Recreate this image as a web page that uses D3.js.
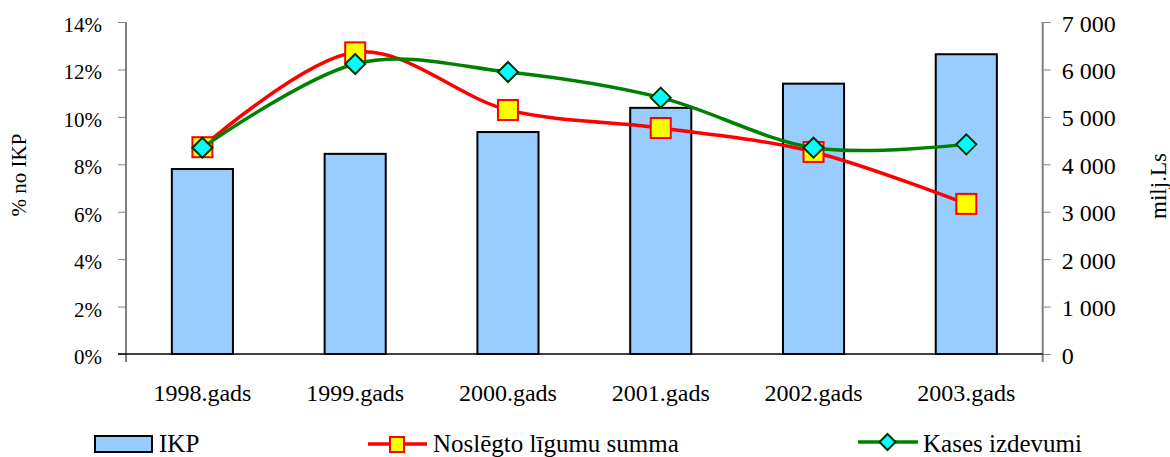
<html>
    <head>
        <style>
        body {
            margin: 0;
            background: white;
        }

        svg {
            display: block;
        }

        svg text {
            font-family: 'Liberation Serif', 'Times New Roman', serif;
        }

        .tick line {
            stroke: #808080;
        }
        </style>
    </head>
    <body>
        <svg width="1170" height="457"></svg>

        <script src="https://d3js.org/d3.v7.min.js"></script>

        <script>
            // data
            let years = ["1998.gads", "1999.gads", "2000.gads", "2001.gads", "2002.gads", "2003.gads"]
            let ikp = [3900, 4220, 4680, 5190, 5700, 6320]          // milj.Ls, right axis
            let ligumi = [8.72, 12.72, 10.29, 9.53, 8.52, 6.33]     // % no IKP
            let kases = [8.70, 12.23, 11.89, 10.81, 8.70, 8.84]     // % no IKP
            let leftTicks = [0, 2, 4, 6, 8, 10, 12, 14]
            let rightTicks = [0, 1000, 2000, 3000, 4000, 5000, 6000, 7000]
            let seriesNames = ["IKP", "Noslēgto līgumu summa", "Kases izdevumi"]

            let svg = d3.select("svg")

            let plotLeft = 126, plotRight = 1042.7, plotTop = 22, plotBottom = 354

            let x = d3.scaleBand()
                .domain(years)
                .range([plotLeft, plotRight])
                .padding(0)

            let yL = d3.scaleLinear().domain([0, 14]).range([plotBottom, plotTop])
            let yR = d3.scaleLinear().domain([0, 7000]).range([plotBottom, plotTop])

            let cx = d => x(d) + x.bandwidth() / 2
            let barW = x.bandwidth() * 0.4

            // bars
            svg.append("g")
                .selectAll("rect")
                .data(years)
                .enter().append("rect")
                .attr("x", d => cx(d) - barW / 2)
                .attr("width", barW)
                .attr("y", (d, i) => yR(ikp[i]))
                .attr("height", (d, i) => plotBottom - yR(ikp[i]))
                .style("fill", "#99ccff")
                .style("stroke", "black")
                .style("stroke-width", 2)

            // left axis
            let axL = svg.append("g")
                .attr("transform", `translate(${plotLeft},0)`)
                .call(d3.axisLeft(yL).tickValues(leftTicks).tickSize(8).tickSizeOuter(0).tickPadding(16).tickFormat(d => d + "%"))
            axL.select(".domain").remove()
            axL.selectAll("text").style("font-size", "21px").style("fill", "black").attr("dy", "0.45em")

            svg.append("line")
                .attr("x1", plotLeft).attr("x2", plotLeft)
                .attr("y1", plotTop).attr("y2", plotBottom + 8)
                .style("stroke", "#808080").style("stroke-width", 2)

            // right axis
            let fmt = d3.formatLocale({decimal: ",", thousands: " ", grouping: [3], currency: ["", ""]}).format(",")
            let axR = svg.append("g")
                .attr("transform", `translate(${plotRight},0)`)
                .call(d3.axisRight(yR).tickValues(rightTicks).tickSize(8).tickSizeOuter(0).tickPadding(11).tickFormat(fmt))
            axR.select(".domain").remove()
            axR.selectAll("text").style("font-size", "24px").style("fill", "black").attr("dy", "0.38em")

            svg.append("line")
                .attr("x1", plotRight).attr("x2", plotRight)
                .attr("y1", plotTop).attr("y2", plotBottom + 8)
                .style("stroke", "#808080").style("stroke-width", 2)

            // base line
            svg.append("line")
                .attr("x1", plotLeft - 8).attr("x2", plotRight)
                .attr("y1", plotBottom).attr("y2", plotBottom)
                .style("stroke", "black").style("stroke-width", 1.5)

            // category labels
            svg.append("g")
                .selectAll("text")
                .data(years)
                .enter().append("text")
                .attr("x", d => cx(d))
                .attr("y", 401)
                .attr("text-anchor", "middle")
                .style("font-size", "24px")
                .text(d => d)

            // axis titles
            svg.append("text")
                .attr("transform", "translate(26,175) rotate(-90)")
                .attr("text-anchor", "middle")
                .style("font-size", "21px")
                .text("% no IKP")

            svg.append("text")
                .attr("transform", "translate(1166,186) rotate(-90)")
                .attr("text-anchor", "middle")
                .style("font-size", "23px")
                .text("milj.Ls")

            // lines
            let line = d3.line()
                .x((d, i) => cx(years[i]))
                .y(d => yL(d))
                .curve(d3.curveCatmullRom.alpha(0))

            let diamond = s => `M0,${-s}L${s},0L0,${s}L${-s},0Z`

            svg.append("path")
                .attr("d", line(ligumi))
                .style("fill", "none")
                .style("stroke", "#ff0000")
                .style("stroke-width", 3.5)

            svg.append("g")
                .selectAll("rect")
                .data(ligumi)
                .enter().append("rect")
                .attr("x", (d, i) => cx(years[i]) - 10)
                .attr("y", d => yL(d) - 10)
                .attr("width", 20)
                .attr("height", 20)
                .style("fill", "#ffff00")
                .style("stroke", "#ff0000")
                .style("stroke-width", 2)

            svg.append("path")
                .attr("d", line(kases))
                .style("fill", "none")
                .style("stroke", "#008000")
                .style("stroke-width", 3.5)

            svg.append("g")
                .selectAll("path")
                .data(kases)
                .enter().append("path")
                .attr("transform", (d, i) => `translate(${cx(years[i])},${yL(d)})`)
                .attr("d", diamond(10))
                .style("fill", "#00ffff")
                .style("stroke", "#003300")
                .style("stroke-width", 2)

            // legend
            let lg = svg.append("g")

            lg.append("rect")
                .attr("x", 95).attr("y", 436).attr("width", 57).attr("height", 16)
                .style("fill", "#99ccff").style("stroke", "black").style("stroke-width", 2)
            lg.append("text").attr("x", 159).attr("y", 452).text(seriesNames[0])

            lg.append("line")
                .attr("x1", 368).attr("x2", 427).attr("y1", 444).attr("y2", 444)
                .style("stroke", "#ff0000").style("stroke-width", 3.5)
            lg.append("rect")
                .attr("x", 390).attr("y", 437).attr("width", 14).attr("height", 15)
                .style("fill", "#ffff00").style("stroke", "#ff0000").style("stroke-width", 2)
            lg.append("text").attr("x", 433).attr("y", 452).text(seriesNames[1])

            lg.append("line")
                .attr("x1", 858).attr("x2", 918).attr("y1", 442).attr("y2", 442)
                .style("stroke", "#008000").style("stroke-width", 3.5)
            lg.append("path")
                .attr("transform", "translate(887.5,442)")
                .attr("d", diamond(8))
                .style("fill", "#00ffff").style("stroke", "#003300").style("stroke-width", 2)
            lg.append("text").attr("x", 923).attr("y", 452).text(seriesNames[2])

            lg.selectAll("text").style("font-size", "25px")
        </script>
    </body>
</html>
